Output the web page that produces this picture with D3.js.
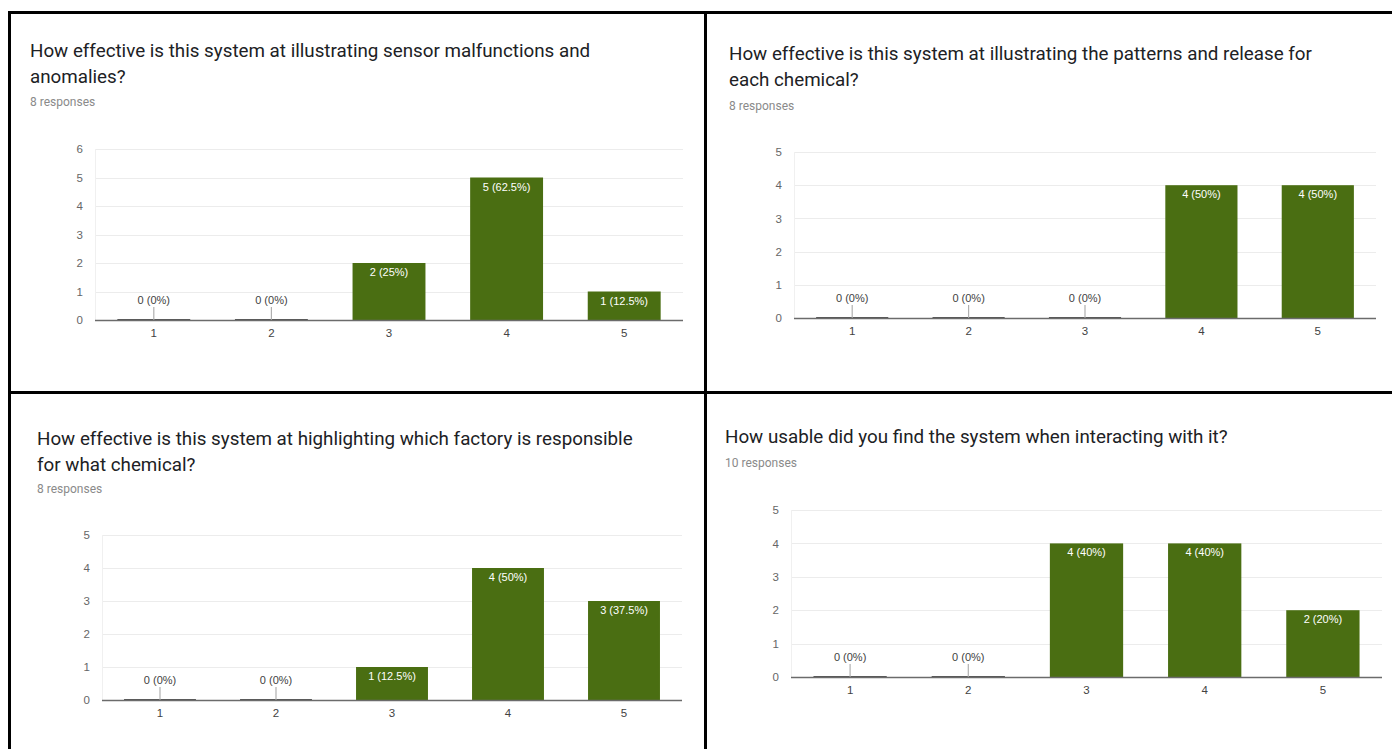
<!DOCTYPE html>
<html>
<head>
<meta charset="utf-8">
<script src="https://cdn.jsdelivr.net/npm/d3@7"></script>
<style>
  html, body { margin: 0; padding: 0; background: #fff; }
  svg { display: block; }
</style>
</head>
<body>
<svg id="chart" width="1392" height="749"></svg>
<script>
// Survey answers on a 1–5 scale, one array per question
const categories = ["1", "2", "3", "4", "5"];
const anomaliesCounts = [0, 0, 2, 5, 1];
const chemicalPatternCounts = [0, 0, 0, 4, 4];
const factoryCounts = [0, 0, 1, 4, 3];
const usabilityCounts = [0, 0, 4, 4, 2];
const responseTotals = [8, 8, 8, 10];
const yTickMax = [6, 5, 5, 5];

const titleLines = [
  ["How effective is this system at illustrating sensor malfunctions and", "anomalies?"],
  ["How effective is this system at illustrating the patterns and release for", "each chemical?"],
  ["How effective is this system at highlighting which factory is responsible", "for what chemical?"],
  ["How usable did you find the system when interacting with it?"]
];
const seriesList = [anomaliesCounts, chemicalPatternCounts, factoryCounts, usabilityCounts];

// Page layout for the four question cards
const layout = [
  { tx: 30,  ty: 57,  rY: 106, left: 95,  right: 683,  top: 149, bottom: 320 },
  { tx: 729, ty: 60,  rY: 110, left: 794, right: 1376, top: 152, bottom: 318 },
  { tx: 37,  ty: 445, rY: 493, left: 102, right: 682,  top: 535, bottom: 700 },
  { tx: 725, ty: 443, rY: 467, left: 791, right: 1382, top: 510, bottom: 677 }
];

const BAR = "#4a6e12";
const svg = d3.select("#chart");
svg.append("rect").attr("width", 1392).attr("height", 749).attr("fill", "#fff");

const pctText = (v, n) => `${v} (${+(v / n * 100).toFixed(1)}%)`;

layout.forEach((L, i) => {
  const data = seriesList[i];
  const total = responseTotals[i];
  const g = svg.append("g");

  // Question title and response count
  const title = g.append("text")
    .attr("x", L.tx).attr("y", L.ty)
    .attr("font-family", "Roboto, sans-serif")
    .attr("font-size", 18.8)
    .attr("fill", "#202124");
  titleLines[i].forEach((line, k) => {
    title.append("tspan").attr("x", L.tx).attr("y", L.ty + k * 25.5).text(line);
  });
  g.append("text")
    .attr("x", L.tx).attr("y", L.rY)
    .attr("font-family", "Roboto, sans-serif")
    .attr("font-size", 12)
    .attr("fill", "#8a8a8a")
    .text(`${total} responses`);

  const x = d3.scaleBand()
    .domain(categories)
    .range([L.left, L.right])
    .paddingInner(0.38)
    .paddingOuter(0.19);
  const y = d3.scaleLinear()
    .domain([0, yTickMax[i]])
    .range([L.bottom, L.top]);

  // Horizontal gridlines
  const ticks = d3.range(0, yTickMax[i] + 1);
  g.append("g").selectAll("line").data(ticks.slice(1)).join("line")
    .attr("x1", L.left).attr("x2", L.right)
    .attr("y1", d => Math.round(y(d)) + 0.5).attr("y2", d => Math.round(y(d)) + 0.5)
    .attr("stroke", "#ececec").attr("stroke-width", 1);
  g.append("line")
    .attr("x1", L.left + 0.5).attr("x2", L.left + 0.5)
    .attr("y1", y(yTickMax[i])).attr("y2", L.bottom)
    .attr("stroke", "#f0f0f0");

  // Y axis labels
  const yAxis = d3.axisLeft(y).tickValues(ticks).tickFormat(d3.format("d")).tickSize(0).tickPadding(12);
  const ya = g.append("g").attr("transform", `translate(${L.left},0)`).call(yAxis);
  ya.select(".domain").remove();
  ya.selectAll("text")
    .attr("font-family", "'Liberation Sans', Arial, sans-serif")
    .attr("font-size", 11.5).attr("fill", "#666");

  // Bars
  const items = categories.map((c, k) => ({ c, v: data[k] }));
  g.append("g").selectAll("rect").data(items.filter(d => d.v > 0)).join("rect")
    .attr("x", d => x(d.c)).attr("width", x.bandwidth())
    .attr("y", d => y(d.v)).attr("height", d => y(0) - y(d.v))
    .attr("fill", BAR);

  // Zero-count markers: dark stub on the axis and a short leader line
  const zeros = items.filter(d => d.v === 0);
  g.append("g").selectAll("line").data(zeros).join("line")
    .attr("x1", d => x(d.c)).attr("x2", d => x(d.c) + x.bandwidth())
    .attr("y1", y(0)).attr("y2", y(0))
    .attr("stroke", "#555").attr("stroke-width", 2);
  g.append("g").selectAll("line").data(zeros).join("line")
    .attr("x1", d => x(d.c) + x.bandwidth() / 2).attr("x2", d => x(d.c) + x.bandwidth() / 2)
    .attr("y1", y(0) - 13).attr("y2", y(0))
    .attr("stroke", "#b0b0b0").attr("stroke-width", 1.2);

  // Baseline
  g.append("line")
    .attr("x1", L.left).attr("x2", L.right)
    .attr("y1", y(0) + 0.5).attr("y2", y(0) + 0.5)
    .attr("stroke", "#6b6b6b").attr("stroke-width", 1.5);

  // Value labels
  g.append("g").selectAll("text").data(items).join("text")
    .attr("x", d => x(d.c) + x.bandwidth() / 2)
    .attr("y", d => d.v > 0 ? y(d.v) + 13 : y(0) - 16)
    .attr("text-anchor", "middle")
    .attr("font-family", "'Liberation Sans', Arial, sans-serif")
    .attr("font-size", 11)
    .attr("fill", d => d.v > 0 ? "#ffffff" : "#424242")
    .text(d => pctText(d.v, total));

  // X axis labels
  const xAxis = d3.axisBottom(x).tickSize(0).tickPadding(9);
  const xa = g.append("g").attr("transform", `translate(0,${L.bottom})`).call(xAxis);
  xa.select(".domain").remove();
  xa.selectAll("text")
    .attr("font-family", "'Liberation Sans', Arial, sans-serif")
    .attr("font-size", 11.5).attr("fill", "#424242");
});

// Card borders
const borders = svg.append("g").attr("stroke", "#000").attr("stroke-width", 3);
borders.append("line").attr("x1", 8).attr("x2", 1392).attr("y1", 12.5).attr("y2", 12.5);
borders.append("line").attr("x1", 9.5).attr("x2", 9.5).attr("y1", 11).attr("y2", 749);
borders.append("line").attr("x1", 705.5).attr("x2", 705.5).attr("y1", 11).attr("y2", 749);
borders.append("line").attr("x1", 8).attr("x2", 1392).attr("y1", 392.5).attr("y2", 392.5);
</script>
</body>
</html>
